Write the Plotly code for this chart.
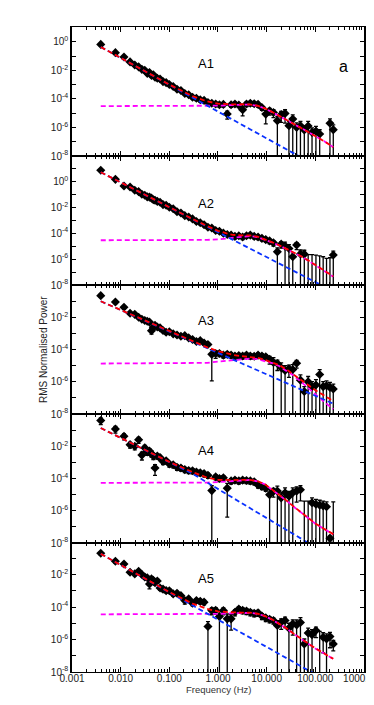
import numpy as np
import plotly.graph_objects as go
from plotly.subplots import make_subplots

# frequency bins (Hz), shared by the five light curves
freq = [0.0039, 0.0078, 0.0117, 0.0156, 0.0195, 0.0234, 0.0273, 0.0313, 0.0352, 0.0391,
        0.0430, 0.0469, 0.0508, 0.0566, 0.0645, 0.0742, 0.0859, 0.100, 0.120, 0.144,
        0.173, 0.208, 0.250, 0.300, 0.360, 0.432, 0.518, 0.622, 0.746, 0.896,
        1.07, 1.29, 1.55, 1.86, 2.23, 2.68, 3.21, 3.85, 4.62, 5.55,
        6.66, 7.99, 9.59, 11.5, 13.8, 16.6, 19.9, 23.9, 28.7, 34.4,
        41.3, 49.5, 59.4, 71.3, 85.6, 103, 123, 145, 170, 200, 234]

# log10 of RMS normalised power
a1_pow = [-0.17, -0.75, -1.05, -1.40, -1.62, -1.75, -1.92, -1.98, -2.20, -2.15,
          -2.35, -2.30, -2.48, -2.55, -2.60, -2.78, -2.85, -2.98, -3.12, -3.32,
          -3.40, -3.62, -3.70, -3.88, -3.95, -4.05, -4.10, -4.25, -4.30, -4.35,
          -4.40, -4.38, -5.05, -4.40, -4.35, -4.42, -4.75, -4.35, -4.30, -4.33,
          -4.38, -4.60, -5.06, -4.83, -4.95, -5.52, -5.10, -5.01, -5.87, -5.41,
          -5.99, -5.88, -6.18, -5.90, -6.34, -6.25, -6.46, None, None, -5.70, -6.15]
a2_pow = [0.85, 0.15, -0.36, -0.44, -0.69, -0.80, -1.00, -1.08, -1.20, -1.22,
          -1.30, -1.42, -1.46, -1.55, -1.62, -1.80, -1.85, -2.00, -2.12, -2.35,
          -2.45, -2.65, -2.75, -2.90, -3.10, -3.20, -3.35, -3.55, -3.60, -3.80,
          -3.85, -4.00, -4.10, -4.15, -4.25, -4.20, -4.30, -4.20, -4.15, -4.25,
          -4.30, -4.40, -4.50, -4.60, -4.75, -5.44, -4.85, -5.00, -5.18, -5.82,
          -4.92, -5.60, -5.62, -9, -9, -9, -9, -9, -9, -9, -5.69]
a3_pow = [-0.66, -1.05, -1.38, -1.75, -1.82, -2.00, -2.12, -2.20, -2.25, -2.30,
          -2.83, -2.62, -2.50, -2.60, -2.66, -2.82, -2.93, -2.90, -3.03, -3.10,
          -3.18, -3.14, -3.28, -3.38, -3.50, -3.45, -3.60, -3.69, -4.30, -4.25,
          -4.25, -4.35, -4.30, -4.35, -4.40, -4.38, -4.40, -4.35, -4.40, -4.42,
          -4.35, -4.40, -4.45, -4.60, -4.80, -4.87, -5.13, -5.30, -5.20, -5.24,
          -4.85, -5.90, -6.60, -6.00, -6.30, -6.20, -5.55, -6.30, -6.25, -6.35, -6.45]
a4_pow = [-0.40, -0.93, -1.38, -1.90, -2.00, -1.60, -2.55, -2.10, -2.35, -2.30,
          -2.45, -2.60, -3.35, -2.60, -2.70, -2.95, -2.90, -3.10, -3.15, -3.30,
          -3.35, -3.45, -3.50, -3.52, -3.60, -3.65, -3.70, -3.80, -4.75, -3.90,
          -4.00, -3.95, -4.60, -4.15, -4.10, -4.15, -4.10, -4.12, -4.15, -4.20,
          -4.40, -4.50, -4.60, -5.00, -4.80, -4.78, -5.20, -4.88, -5.10, -4.88,
          -4.78, -4.70, -9, -9, -5.50, -5.60, -5.65, -5.70, -5.75, -7.70, -9]
a5_pow = [-0.69, -1.18, -1.35, -1.86, -1.96, -1.80, -2.00, -2.15, -2.20, -2.58,
          -2.27, -2.35, -2.50, -2.40, -2.83, -2.90, -2.99, -3.00, -3.19, -3.15,
          -3.30, -3.60, -3.50, -3.77, -3.60, -3.65, -3.70, -5.20, -4.22, -4.20,
          -4.58, -4.22, -4.73, -4.73, -4.32, -4.12, -4.20, -4.25, -4.32, -4.38,
          -4.35, -4.55, -4.67, -4.75, -4.83, -5.14, -4.94, -4.83, -5.30, -5.04,
          -5.10, -4.95, -6.27, -5.60, -5.70, -5.45, -9, -5.86, -5.96, -5.82, -6.27]

# error size relative to the power, in dex (0 = error equal to the power)
a1_err = [-0.7] * 24 + [-0.5, -0.5, -0.5, -0.5, -0.5, -0.5,
          -0.5, -0.5, -0.25, -0.45, -0.45, -0.45, -0.2, -0.45, -0.45, -0.45,
          -0.45, -0.45, -0.1, -0.3, -0.25, 0.0, -0.15, -0.1, 0.0, 0.0,
          0.02, 0.0, 0.03, 0.05, 0.02, 0.05, 0.0, 0.0, 0.0, 0.0, 0.05]
a2_err = [-0.7] * 24 + [-0.55, -0.55, -0.55, -0.55, -0.55, -0.55,
          -0.55, -0.55, -0.55, -0.55, -0.45, -0.45, -0.45, -0.45, -0.45, -0.45,
          -0.45, -0.45, -0.45, -0.4, -0.35, 0.0, -0.3, 0.0, 0.0, 0.0,
          -0.25, 0.0, 0.0, 3.35, 3.35, 3.31, 3.25, 3.18, 3.05, 3.1, 0.0]
a3_err = [-0.7] * 10 + [-0.4] + [-0.65] * 17 + [-0.01, -0.3] + [-0.45] * 13 + [
          -0.3, 0.0, -0.2, 0.0, 0.0, -0.15, 0.0,
          -0.3, 0.05, 0.0, 0.05, 0.02, 0.05, 0.0, 0.02, 0.0, 0.02, 0.0]
a4_err = [-0.35, -0.35, -0.4, -0.4, -0.4, -0.4, -0.3, -0.4, -0.4, -0.4,
          -0.4, -0.4, -0.19, -0.45, -0.45, -0.45, -0.45, -0.45, -0.45, -0.45,
          -0.45, -0.45, -0.45, -0.45, -0.45, -0.45, -0.45, -0.45, 0.0, -0.45,
          -0.45, -0.45, -0.007, -0.45, -0.45, -0.45, -0.45, -0.45, -0.45, -0.45,
          -0.45, -0.45, -0.45, 0.0, -0.25, 0.0, 0.0, 0.0, 0.0, 0.0,
          -0.1, -0.1, 3.6, 3.6, 0.0, 0.0, 0.0, 0.0, 0.0, -0.5, 3.55]
a5_err = [-0.6] * 9 + [-0.3] + [-0.55] * 11 + [
          -0.4, -0.5, -0.5, -0.5, -0.5, -0.5, 0.0, -0.35, -0.35,
          0.0, -0.35, 0.0, -0.1, -0.4, -0.4, -0.4, -0.4, -0.4, -0.4,
          -0.4, -0.4, -0.4, -0.4, -0.4, 0.0, -0.2, -0.2, 0.0, -0.1,
          0.0, 0.0, 0.0, 0.0, 0.0, -0.2, 3.5, -0.05, 0.0, -0.1, -0.2]

# model components (log10 power) at these frequencies
model_freq = [0.0039, 0.01, 0.03, 0.1, 0.3, 0.6, 1, 1.5, 2, 3, 4.5,
              6.5, 9, 13, 18, 25, 35, 50, 70, 100, 150, 234]

a1_pl = [-0.35, -1.12, -2.02, -3.00, -3.90, -4.46, -4.88, -5.21, -5.45, -5.78, -6.11,
         -6.41, -6.67, -6.97, -7.24, -7.51, -7.78, -8.07, -8.35, -8.64, -8.98, -9.34]
a1_lor = [-4.50, -4.50, -4.50, -4.50, -4.50, -4.49, -4.47, -4.44, -4.42, -4.39, -4.39,
          -4.48, -4.65, -4.92, -5.20, -5.47, -5.74, -6.02, -6.30, -6.60, -6.95, -7.38]
a1_fit = [-0.35, -1.12, -2.02, -2.99, -3.80, -4.17, -4.33, -4.37, -4.38, -4.37, -4.38,
          -4.47, -4.64, -4.91, -5.19, -5.47, -5.74, -6.02, -6.30, -6.60, -6.95, -7.38]

a2_pl = [0.70, -0.09, -1.00, -2.00, -2.92, -3.49, -3.93, -4.26, -4.50, -4.84, -5.18,
         -5.49, -5.76, -6.07, -6.34, -6.61, -6.89, -7.19, -7.47, -7.77, -8.11, -8.48]
a2_lor = [-4.55, -4.55, -4.55, -4.55, -4.54, -4.52, -4.48, -4.42, -4.36, -4.27, -4.22,
          -4.30, -4.48, -4.72, -4.95, -5.20, -5.47, -5.78, -6.10, -6.47, -6.90, -7.36]
a2_fit = [0.70, -0.09, -1.00, -2.00, -2.91, -3.45, -3.82, -4.02, -4.13, -4.17, -4.18,
          -4.27, -4.46, -4.70, -4.93, -5.18, -5.45, -5.76, -6.08, -6.45, -6.87, -7.33]

a3_pl = [-1.01, -1.55, -2.19, -2.88, -3.52, -3.92, -4.21, -4.45, -4.61, -4.85, -5.08,
         -5.29, -5.48, -5.69, -5.88, -6.07, -6.27, -6.47, -6.67, -6.87, -7.11, -7.36]
a3_lor = [-4.87, -4.87, -4.87, -4.87, -4.87, -4.83, -4.75, -4.70, -4.66, -4.60, -4.57,
          -4.60, -4.70, -4.85, -5.02, -5.28, -5.60, -5.98, -6.37, -6.80, -7.23, -7.70]
a3_fit = [-1.01, -1.55, -2.19, -2.87, -3.50, -3.87, -4.10, -4.26, -4.33, -4.41, -4.46,
          -4.52, -4.63, -4.79, -4.96, -5.22, -5.52, -5.86, -6.19, -6.52, -6.87, -7.20]

a4_pl = [-0.87, -1.48, -2.20, -2.98, -3.70, -4.25, -4.65, -4.97, -5.19, -5.51, -5.83,
         -6.11, -6.37, -6.66, -6.91, -7.17, -7.43, -7.71, -7.97, -8.25, -8.57, -8.92]
a4_lor = [-4.27, -4.27, -4.27, -4.27, -4.27, -4.25, -4.22, -4.18, -4.14, -4.10, -4.09,
          -4.18, -4.35, -4.70, -5.00, -5.35, -5.72, -6.10, -6.45, -6.80, -7.12, -7.46]
a4_fit = [-0.87, -1.48, -2.20, -2.97, -3.60, -3.95, -4.08, -4.11, -4.10, -4.08, -4.08,
          -4.17, -4.34, -4.69, -4.99, -5.34, -5.71, -6.09, -6.44, -6.79, -7.11, -7.45]

a5_pl = [-0.73, -1.42, -2.22, -3.10, -3.90, -4.41, -4.78, -5.07, -5.28, -5.58, -5.88,
         -6.15, -6.38, -6.65, -6.89, -7.13, -7.38, -7.64, -7.88, -8.14, -8.44, -8.76]
a5_lor = [-4.45, -4.45, -4.45, -4.45, -4.45, -4.44, -4.42, -4.40, -4.38, -4.36, -4.36,
          -4.42, -4.55, -4.78, -5.02, -5.30, -5.62, -5.95, -6.25, -6.55, -6.85, -7.19]
a5_fit = [-0.73, -1.42, -2.22, -3.08, -3.79, -4.12, -4.27, -4.32, -4.33, -4.34, -4.35,
          -4.41, -4.54, -4.77, -5.01, -5.29, -5.61, -5.94, -6.24, -6.54, -6.85, -7.19]

# axis ticks
x_ticks = [0.001, 0.01, 0.1, 1, 10, 100, 1000]
x_text = ["0.001", "0.010", "0.100", "1.000", "10.000", "100.000", "1000.000"]
y_ticks_tall = [1e-8, 1e-7, 1e-6, 1e-5, 1e-4, 1e-3, 1e-2, 1e-1, 1e0, 1e1]
y_text_tall = ["10<sup>-8</sup>", " ", "10<sup>-6</sup>", " ", "10<sup>-4</sup>", " ",
               "10<sup>-2</sup>", " ", "10<sup>0</sup>", " "]
y_ticks_short = [1e-8, 1e-7, 1e-6, 1e-5, 1e-4, 1e-3, 1e-2, 1e-1]
y_text_short = ["10<sup>-8</sup>", " ", "10<sup>-6</sup>", " ", "10<sup>-4</sup>", " ",
                "10<sup>-2</sup>", " "]

panels = [
    ("A1", a1_pow, a1_err, a1_pl, a1_lor, a1_fit, [-8.0, 1.05], 0.79),
    ("A2", a2_pow, a2_err, a2_pl, a2_lor, a2_fit, [-8.0, 1.95], 0.705),
    ("A3", a3_pow, a3_err, a3_pl, a3_lor, a3_fit, [-8.0, 0.0], 0.80),
    ("A4", a4_pow, a4_err, a4_pl, a4_lor, a4_fit, [-8.0, 0.0], 0.79),
    ("A5", a5_pow, a5_err, a5_pl, a5_lor, a5_fit, [-8.0, -0.06], 0.80),
]

font = "Liberation Sans, Arial, sans-serif"
dash = "5px,3px"

fig = make_subplots(rows=5, cols=1, shared_xaxes=True, vertical_spacing=0)

for i, (name, pw, er, pl, lor, fit, yr, ylab) in enumerate(panels, start=1):
    power = 10 ** np.array(pw, dtype=float)
    err = power * 10 ** np.array(er, dtype=float)

    fig.add_trace(go.Scatter(
        x=freq, y=power, mode="markers",
        marker=dict(symbol="diamond", size=7, color="black"),
        error_y=dict(type="data", array=err, color="black", thickness=1.3, width=2),
    ), row=i, col=1)

    fig.add_trace(go.Scatter(
        x=model_freq, y=10 ** np.array(lor), mode="lines",
        line=dict(color="#ff00ff", width=1.8, dash=dash),
    ), row=i, col=1)

    fig.add_trace(go.Scatter(
        x=model_freq, y=10 ** np.array(pl), mode="lines",
        line=dict(color="#0a32ff", width=1.8, dash=dash),
    ), row=i, col=1)

    fig.add_trace(go.Scatter(
        x=model_freq, y=10 ** np.array(fit), mode="lines",
        line=dict(color="#ff0000", width=1.8, dash=dash),
    ), row=i, col=1)

    tall = yr[1] > 0.5
    fig.update_yaxes(
        type="log", range=yr, automargin=False,
        tickmode="array",
        tickvals=y_ticks_tall if tall else y_ticks_short,
        ticktext=y_text_tall if tall else y_text_short,
        ticks="inside", ticklen=4, tickwidth=1, tickcolor="black",
        showline=True, linecolor="black", linewidth=1.6, mirror="allticks",
        showgrid=False, zeroline=False,
        tickfont=dict(family=font, size=10, color="#222"),
        row=i, col=1,
    )

    sfx = "" if i == 1 else str(i)
    fig.add_annotation(
        text=name, xref=f"x{sfx} domain", yref=f"y{sfx} domain",
        x=0.46, y=ylab, showarrow=False,
        font=dict(family=font, size=13, color="black"),
    )

fig.update_xaxes(
    type="log", range=[-3, 3.0005], automargin=False,
    tickmode="array", tickvals=x_ticks, ticktext=x_text, tickangle=0,
    ticks="inside", ticklen=5, tickwidth=1, tickcolor="black",
    ticklabelstandoff=-3, ticklabeloverflow="allow",
    minor=dict(ticks="inside", ticklen=2.5, tickcolor="black", dtick="D1"),
    showline=True, linecolor="black", linewidth=1.1, mirror="allticks",
    showgrid=False, zeroline=False,
    tickfont=dict(family=font, size=10, color="#222"),
)

fig.add_annotation(
    text="a", xref="x domain", yref="y domain", x=0.951, y=0.776,
    showarrow=False, font=dict(family=font, size=16, color="black"),
)
fig.add_annotation(
    text="RMS Normalised Power", xref="paper", yref="paper",
    x=-0.123, y=0.5, textangle=-90, showarrow=False,
    font=dict(family=font, size=10, color="#222"),
)
fig.add_annotation(
    text="Frequency (Hz)", xref="paper", yref="paper",
    x=0.5, y=-0.038, showarrow=False,
    font=dict(family=font, size=9.5, color="#333"),
)

fig.update_layout(
    width=374, height=705,
    margin=dict(l=64, r=18, t=19, b=41),
    showlegend=False,
    plot_bgcolor="white", paper_bgcolor="white",
)

fig.write_html("out.html")
